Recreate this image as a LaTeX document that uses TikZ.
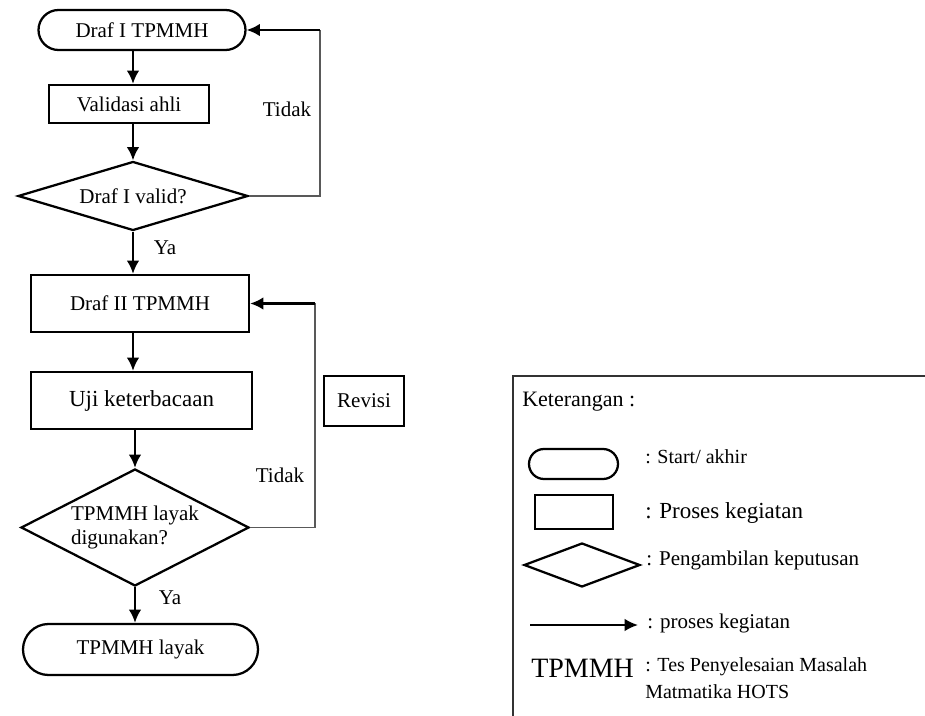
\documentclass[tikz,border=0pt]{standalone}
\usepackage{fontspec}
\setmainfont{Liberation Serif}
\usetikzlibrary{shapes.geometric,shapes.misc,arrows.meta}
\begin{document}
\begin{tikzpicture}[x=0.75pt,y=-0.75pt]
\tikzset{
 fs/.style={font=\fontsize{15.75}{18}\selectfont},
 term/.style={rounded rectangle, draw, line width=1.7pt, inner sep=0pt, fs},
 proc/.style={rectangle, draw, line width=1.7pt, inner sep=0pt, fs},
 dec/.style={diamond, draw, line width=1.7pt, inner sep=0pt, fs},
 arr/.style={line width=1.7pt, -{Latex[length=10pt,width=9.5pt]}},
 loopline/.style={line width=0.9pt, draw=black!65},
 lbl/.style={fs, inner sep=0pt},
 leg/.style={inner sep=0pt, anchor=west}
}
\useasboundingbox (0,0) rectangle (925,716);
% flowchart
\node[term, minimum width=155.25pt, minimum height=30pt] (t1) at (142,30) {Draf I TPMMH};
\node[proc, minimum width=120pt, minimum height=28.5pt] (v) at (129,104) {Validasi ahli};
\node[dec, aspect=3.33, minimum width=172.5pt, minimum height=51.75pt] (d1) at (133,196) {Draf I valid?};
\node[proc, minimum width=163.5pt, minimum height=42.75pt] (d2r) at (140,303.5) {Draf II TPMMH};
\node[proc, minimum width=165.75pt, minimum height=42.75pt, font=\fontsize{17.25}{20}\selectfont] (uji) at (141.5,400.5) {Uji keterbacaan};
\node[dec, aspect=1.95, minimum width=171pt, minimum height=87.75pt, align=left, font=\fontsize{15.75}{18}\selectfont] (dd2) at (135,527.5) {TPMMH layak\\digunakan?};
\node[term, minimum width=176.25pt, minimum height=38.25pt] (t2) at (140.5,649.5) {TPMMH layak};
\node[proc, minimum width=60pt, minimum height=37.5pt] (rev) at (364,401) {Revisi};
\node[lbl] (tdk1) at (287,109) {Tidak};
\node[lbl] (tdk2) at (280,475) {Tidak};
\node[lbl] (ya1) at (165,248) {Ya};
\node[lbl] (ya2) at (170,598) {Ya};
\coordinate (ax) at (133,0);
\coordinate (c1) at (320,30);
\coordinate (c2) at (315,303.5);
\draw[arr] (ax |- t1.south) -- (ax |- v.north);
\draw[arr] (ax |- v.south) -- (ax |- d1.north);
\draw[arr] (d1.south) -- (d1.south |- d2r.north);
\draw[arr] (ax |- d2r.south) -- (ax |- uji.north);
\draw[arr] (dd2.north |- uji.south) -- (dd2.north);
\draw[arr] (dd2.south) -- (dd2.south |- t2.north);
\draw[loopline] (d1.east) -| (c1);
\draw[arr] (c1) -- (t1.east);
\draw[loopline] (dd2.east) -| (c2);
\draw[arr] (c2) -- (d2r.east);
% legend
\coordinate (bx1) at (925,376);
\coordinate (bx2) at (513,376);
\coordinate (bx3) at (513,716);
\draw[line width=1.3pt, black!80] (bx1) -- (bx2) -- (bx3);
\node[leg, font=\fontsize{16.5}{19}\selectfont] (ket) at (522,402) {Keterangan :};
\node[term, minimum width=66.75pt, minimum height=22.5pt] (lt) at (573.5,464) {};
\node[leg, font=\fontsize{15}{18}\selectfont] (lt1) at (645,457) {: Start/ akhir};
\node[proc, minimum width=58.5pt, minimum height=25.5pt] (lr) at (574,512) {};
\node[leg, font=\fontsize{17.25}{20}\selectfont] (lr1) at (645,513) {: Proses kegiatan};
\node[dec, aspect=2.64, minimum width=87pt, minimum height=33pt] (ld) at (582,565) {};
\node[leg, font=\fontsize{15.75}{18}\selectfont] (ld1) at (646,560) {: Pengambilan keputusan};
\coordinate (la1) at (530,625);
\coordinate (la2) at (638,625);
\draw[arr] (la1) -- (la2);
\node[leg, font=\fontsize{15.75}{18}\selectfont] (la3) at (647,623) {: proses kegiatan};
\node[leg, font=\fontsize{21}{24}\selectfont] (tp) at (531,668) {TPMMH};
\node[leg, font=\fontsize{15}{18}\selectfont] (tp1) at (645,667) {: Tes Penyelesaian Masalah};
\node[leg, font=\fontsize{15}{18}\selectfont] (tp2) at (645,692) {Matmatika HOTS};
\end{tikzpicture}
\end{document}
